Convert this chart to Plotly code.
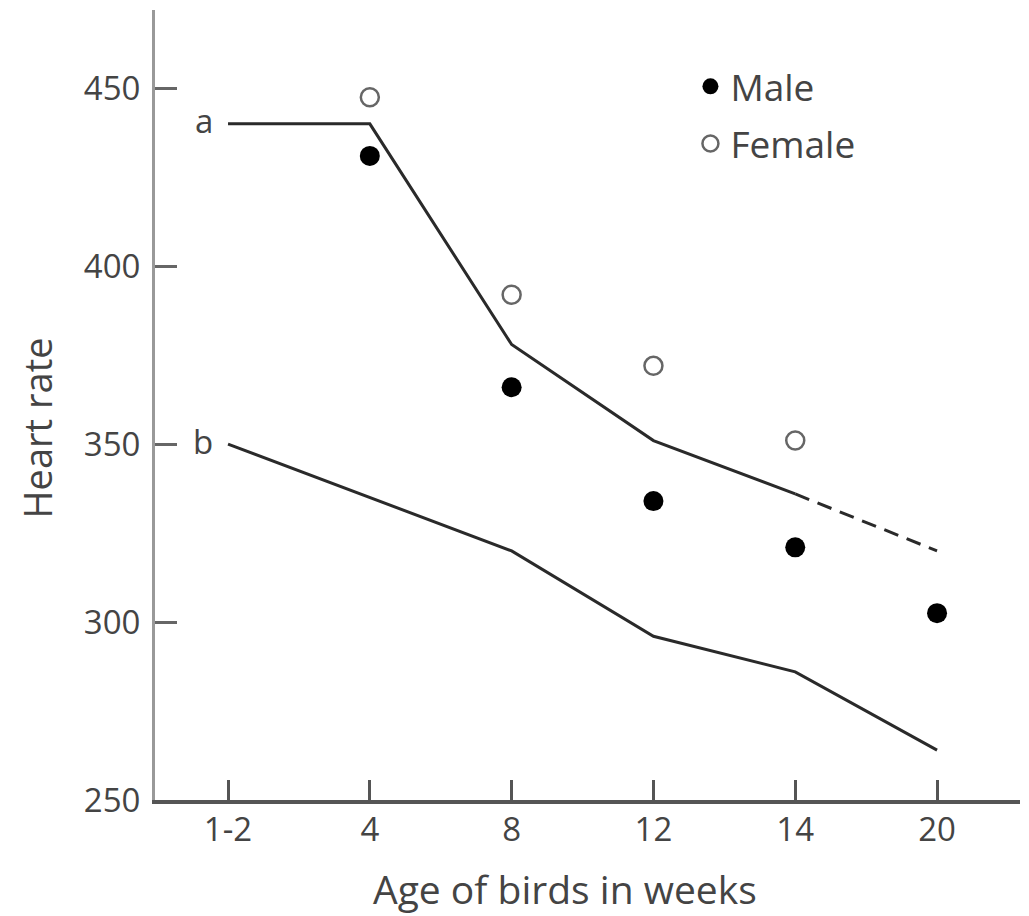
import plotly.graph_objects as go

ages = ["1-2", "4", "8", "12", "14", "20"]
line_a = [440, 440, 378, 351, 336, 320]   # last segment dashed
line_b = [350, 335, 320, 296, 286, 264]
male = [None, 431, 366, 334, 321, 302.5]
female = [None, 447.5, 392, 372, 351, None]
y_ticks = [250, 300, 350, 400, 450]

xi = list(range(len(ages)))
FONT = "Open Sans"
TXT = "#444444"

fig = go.Figure()
fig.add_trace(go.Scatter(x=xi[:5], y=line_a[:5], mode="lines",
                         line=dict(color="#2a2a2a", width=3), showlegend=False, hoverinfo="skip"))
fig.add_trace(go.Scatter(x=xi[4:], y=line_a[4:], mode="lines",
                         line=dict(color="#2a2a2a", width=3, dash="15px,9px"), showlegend=False, hoverinfo="skip"))
fig.add_trace(go.Scatter(x=xi, y=line_b, mode="lines",
                         line=dict(color="#2a2a2a", width=3), showlegend=False, hoverinfo="skip"))
fig.add_trace(go.Scatter(x=xi, y=male, mode="markers", name="Male", legendgroup="m",
                         marker=dict(symbol="circle", size=20, color="black", line=dict(width=0))))
fig.add_trace(go.Scatter(x=xi, y=female, mode="markers", name="Female", legendgroup="f",
                         marker=dict(symbol="circle-open", size=18, color="#666666", line=dict(width=2.5))))

fig.add_annotation(x=-0.09, y=line_a[0], text="a", showarrow=False, xanchor="right",
                   font=dict(family=FONT, size=33, color=TXT), yshift=3)
fig.add_annotation(x=-0.09, y=line_b[0], text="b", showarrow=False, xanchor="right",
                   font=dict(family=FONT, size=33, color=TXT), yshift=3)
fig.add_annotation(x=0.474, y=-0.112, xref="paper", yref="paper", text="Age of birds in weeks",
                   showarrow=False, xanchor="center", yanchor="middle",
                   font=dict(family=FONT, size=39, color=TXT))
fig.add_annotation(x=-0.137, y=0.471, xref="paper", yref="paper", text="Heart rate",
                   showarrow=False, xanchor="center", yanchor="middle", textangle=-90,
                   font=dict(family=FONT, size=38, color=TXT))

fig.update_layout(
    width=1029, height=916,
    margin=dict(l=147, r=17, t=2, b=124, autoexpand=False),
    paper_bgcolor="white", plot_bgcolor="white",
    font=dict(family=FONT, size=33, color=TXT),
    legend=dict(x=0.619, y=0.942, xanchor="left", yanchor="top",
                font=dict(family=FONT, size=37, color=TXT),
                tracegroupgap=6, traceorder="grouped",
                bgcolor="rgba(0,0,0,0)", itemwidth=30),
)
fig.update_xaxes(
    range=[-0.515, 5.585], tickvals=xi, ticktext=ages,
    showline=True, linecolor="#555555", linewidth=3.5,
    ticks="inside", ticklen=20, tickwidth=2.5, tickcolor="#555555",
    showgrid=False, zeroline=False, ticklabelstandoff=-2,
    tickfont=dict(family=FONT, size=33, color=TXT),
)
fig.update_yaxes(
    range=[250, 472], tickvals=y_ticks,
    showline=True, linecolor="#999999", linewidth=3,
    ticks="inside", ticklen=22, tickwidth=2.5, tickcolor="#666666",
    showgrid=False, zeroline=False, ticklabelstandoff=5,
    tickfont=dict(family=FONT, size=33, color=TXT),
)

fig.write_html("out.html")
